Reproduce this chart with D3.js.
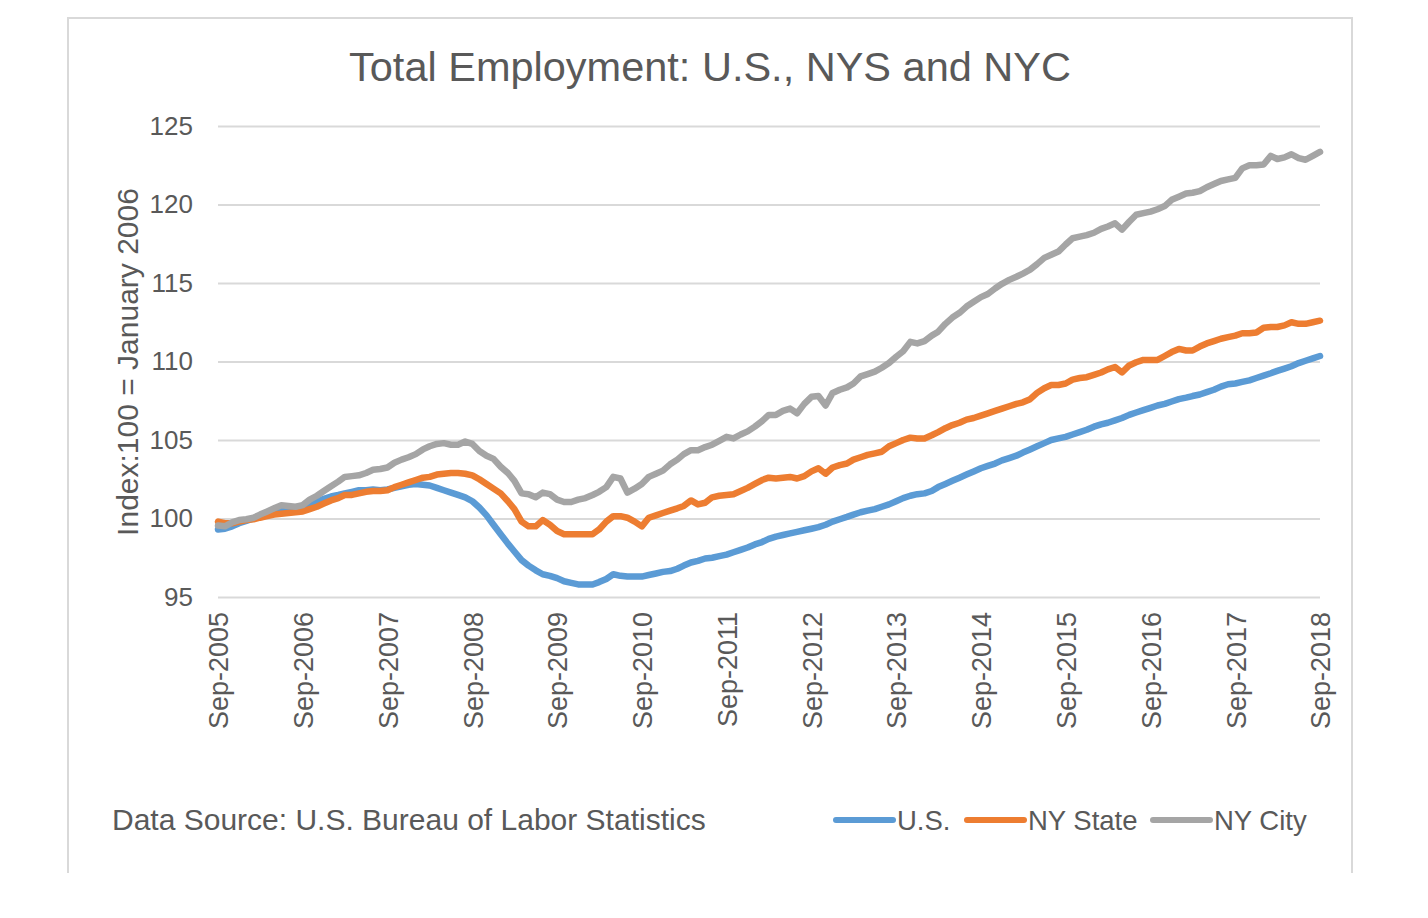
<!DOCTYPE html>
<html><head><meta charset="utf-8">
<script src="https://cdn.jsdelivr.net/npm/d3@7"></script>
<style>
html,body{margin:0;padding:0;background:#fff;}
svg{display:block;font-family:"Liberation Sans",Arial,sans-serif;}
</style></head>
<body>
<svg id="chart" width="1428" height="918"></svg>
<script>
// Monthly index values, Sep-2005 .. Sep-2018 (100 = January 2006)
const startYear = 2005, startMonth = 8; // September 2005
const usValues = [
99.3,99.35,99.5,99.7,99.85,100.0,100.15,100.3,100.4,100.5,100.6,100.7,
100.8,100.95,101.1,101.25,101.4,101.5,101.6,101.7,101.8,101.8,101.85,101.8,
101.85,101.95,102.05,102.15,102.2,102.15,102.1,101.95,101.8,101.65,101.5,101.35,
101.1,100.7,100.2,99.6,99.0,98.4,97.9,97.35,97.0,96.7,96.45,96.35,
96.2,96.0,95.9,95.8,95.8,95.8,95.95,96.15,96.45,96.35,96.3,96.3,
96.3,96.4,96.5,96.6,96.65,96.8,97.0,97.2,97.3,97.45,97.5,97.6,
97.7,97.85,98.0,98.15,98.35,98.5,98.7,98.85,98.95,99.05,99.15,99.25,
99.35,99.45,99.6,99.8,99.95,100.1,100.25,100.4,100.5,100.6,100.75,100.9,
101.1,101.3,101.45,101.55,101.6,101.75,102.0,102.2,102.4,102.6,102.8,103.0,
103.2,103.35,103.5,103.7,103.85,104.0,104.2,104.4,104.6,104.8,105.0,105.1,
105.2,105.35,105.5,105.65,105.85,106.0,106.1,106.25,106.4,106.6,106.75,106.9,
107.05,107.2,107.3,107.45,107.6,107.7,107.8,107.9,108.05,108.2,108.4,108.55,
108.6,108.7,108.8,108.95,109.1,109.25,109.4,109.55,109.7,109.9,110.05,110.2,
110.35];
const nysValues = [
99.8,99.7,99.7,99.8,99.9,99.95,100.05,100.15,100.25,100.3,100.35,100.4,
100.45,100.6,100.75,100.95,101.15,101.3,101.5,101.5,101.6,101.7,101.75,101.75,
101.8,102.0,102.15,102.3,102.45,102.6,102.65,102.8,102.85,102.9,102.9,102.85,
102.75,102.5,102.2,101.9,101.6,101.1,100.6,99.8,99.5,99.5,99.9,99.6,
99.2,99.0,99.0,99.0,99.0,99.0,99.3,99.8,100.15,100.15,100.05,99.8,
99.5,100.05,100.2,100.35,100.5,100.65,100.8,101.15,100.9,101.0,101.35,101.45,
101.5,101.55,101.75,101.95,102.2,102.45,102.6,102.55,102.6,102.65,102.55,102.7,
103.0,103.2,102.85,103.25,103.4,103.5,103.75,103.9,104.05,104.15,104.25,104.6,
104.8,105.0,105.15,105.1,105.1,105.3,105.5,105.75,105.95,106.1,106.3,106.4,
106.55,106.7,106.85,107.0,107.15,107.3,107.4,107.6,108.0,108.3,108.5,108.5,
108.6,108.85,108.95,109.0,109.15,109.3,109.5,109.65,109.3,109.75,109.95,110.1,
110.1,110.1,110.35,110.6,110.8,110.7,110.7,110.95,111.15,111.3,111.45,111.55,
111.65,111.8,111.8,111.85,112.15,112.2,112.2,112.3,112.5,112.4,112.4,112.5,
112.6];
const nycValues = [
99.55,99.5,99.75,99.9,99.95,100.05,100.25,100.45,100.65,100.85,100.8,100.75,
100.85,101.2,101.45,101.75,102.05,102.35,102.65,102.7,102.75,102.9,103.1,103.15,
103.25,103.55,103.75,103.9,104.1,104.4,104.6,104.75,104.8,104.7,104.7,104.9,
104.75,104.3,104.0,103.8,103.3,102.9,102.4,101.6,101.55,101.35,101.65,101.55,
101.2,101.05,101.05,101.2,101.3,101.5,101.7,102.0,102.65,102.55,101.65,101.9,
102.2,102.65,102.85,103.05,103.45,103.75,104.1,104.35,104.35,104.55,104.7,104.95,
105.2,105.1,105.35,105.55,105.85,106.2,106.6,106.6,106.85,107.0,106.7,107.3,
107.75,107.8,107.2,108.0,108.2,108.35,108.6,109.05,109.2,109.35,109.6,109.9,
110.3,110.65,111.25,111.15,111.3,111.65,111.9,112.4,112.8,113.1,113.5,113.8,
114.1,114.3,114.65,114.95,115.2,115.4,115.6,115.85,116.2,116.6,116.8,117.0,
117.45,117.85,117.95,118.05,118.2,118.45,118.6,118.8,118.4,118.9,119.35,119.45,
119.55,119.7,119.9,120.3,120.5,120.7,120.75,120.85,121.1,121.3,121.5,121.6,
121.7,122.3,122.5,122.5,122.55,123.1,122.9,123.0,123.2,122.95,122.85,123.1,
123.35];
const seriesNames = ["U.S.", "NY State", "NY City"];
const seriesColors = ["#5B9BD5", "#ED7D31", "#A5A5A5"];
const yTicks = [95, 100, 105, 110, 115, 120, 125];
const xTickYears = [2005,2006,2007,2008,2009,2010,2011,2012,2013,2014,2015,2016,2017,2018];
const titleText = "Total Employment: U.S., NYS and NYC";
const yTitle = "Index:100 = January 2006";
const sourceText = "Data Source: U.S. Bureau of Labor Statistics";

const svg = d3.select("#chart");
const textColor = "#595959";
const gridColor = "#d9d9d9";
const dates = usValues.map((_, i) => new Date(startYear, startMonth + i, 1));
const allSeries = [usValues, nysValues, nycValues];

// chart border (bottom edge cut off in the reference)
svg.append("path")
  .attr("d", "M68,873 L68,18 L1352,18 L1352,873")
  .attr("fill", "none").attr("stroke", gridColor).attr("stroke-width", 2);

const x = d3.scaleTime()
  .domain([dates[0], dates[dates.length - 1]])
  .range([218, 1320]);
const y = d3.scaleLinear().domain([95, 125]).range([597, 126]);

// title
svg.append("text").attr("x", 710).attr("y", 81)
  .attr("text-anchor", "middle").attr("font-size", 41.5)
  .attr("fill", textColor).text(titleText);

// gridlines + y labels
const yAxis = d3.axisLeft(y).tickValues(yTicks).tickSize(-(1320 - 218)).tickPadding(25);
const gy = svg.append("g").attr("transform", "translate(218,0)").call(yAxis);
gy.select(".domain").remove();
gy.selectAll(".tick line").attr("stroke", gridColor).attr("stroke-width", 2);
gy.selectAll(".tick text").attr("fill", textColor).attr("font-size", 26)
  .attr("font-family", "'Liberation Sans', Arial, sans-serif");

// x labels (rotated)
const xTickDates = xTickYears.map(yr => new Date(yr, 8, 1));
const xAxis = d3.axisBottom(x).tickValues(xTickDates).tickSize(0)
  .tickFormat(d3.timeFormat("%b-%Y"));
const gx = svg.append("g").attr("transform", "translate(0,597)").call(xAxis);
gx.select(".domain").remove();
gx.selectAll(".tick text")
  .attr("fill", textColor).attr("font-size", 27)
  .attr("font-family", "'Liberation Sans', Arial, sans-serif")
  .attr("text-anchor", "end")
  .attr("transform", "rotate(-90)")
  .attr("x", -15).attr("y", 0).attr("dy", "0.36em");

// y title
svg.append("text")
  .attr("transform", "translate(138,362) rotate(-90)")
  .attr("text-anchor", "middle").attr("font-size", 30)
  .attr("fill", textColor).text(yTitle);

// lines
const line = d3.line()
  .x((d, i) => x(dates[i]))
  .y(d => y(d));
allSeries.forEach((vals, k) => {
  svg.append("path").datum(vals)
    .attr("d", line)
    .attr("fill", "none")
    .attr("stroke", seriesColors[k])
    .attr("stroke-width", 6.5)
    .attr("stroke-linejoin", "round")
    .attr("stroke-linecap", "round");
});

// source
svg.append("text").attr("x", 112).attr("y", 830)
  .attr("font-size", 30).attr("fill", textColor).text(sourceText);

// legend
const legendX = [836, 967, 1153];
seriesNames.forEach((name, k) => {
  const g = svg.append("g").attr("transform", `translate(${legendX[k]},820)`);
  g.append("line").attr("x1", 0).attr("x2", 57).attr("y1", 0).attr("y2", 0)
    .attr("stroke", seriesColors[k]).attr("stroke-width", 6)
    .attr("stroke-linecap", "round");
  g.append("text").attr("x", 61).attr("y", 9.5)
    .attr("font-size", 27.5).attr("fill", textColor).text(name);
});
</script>
</body></html>
